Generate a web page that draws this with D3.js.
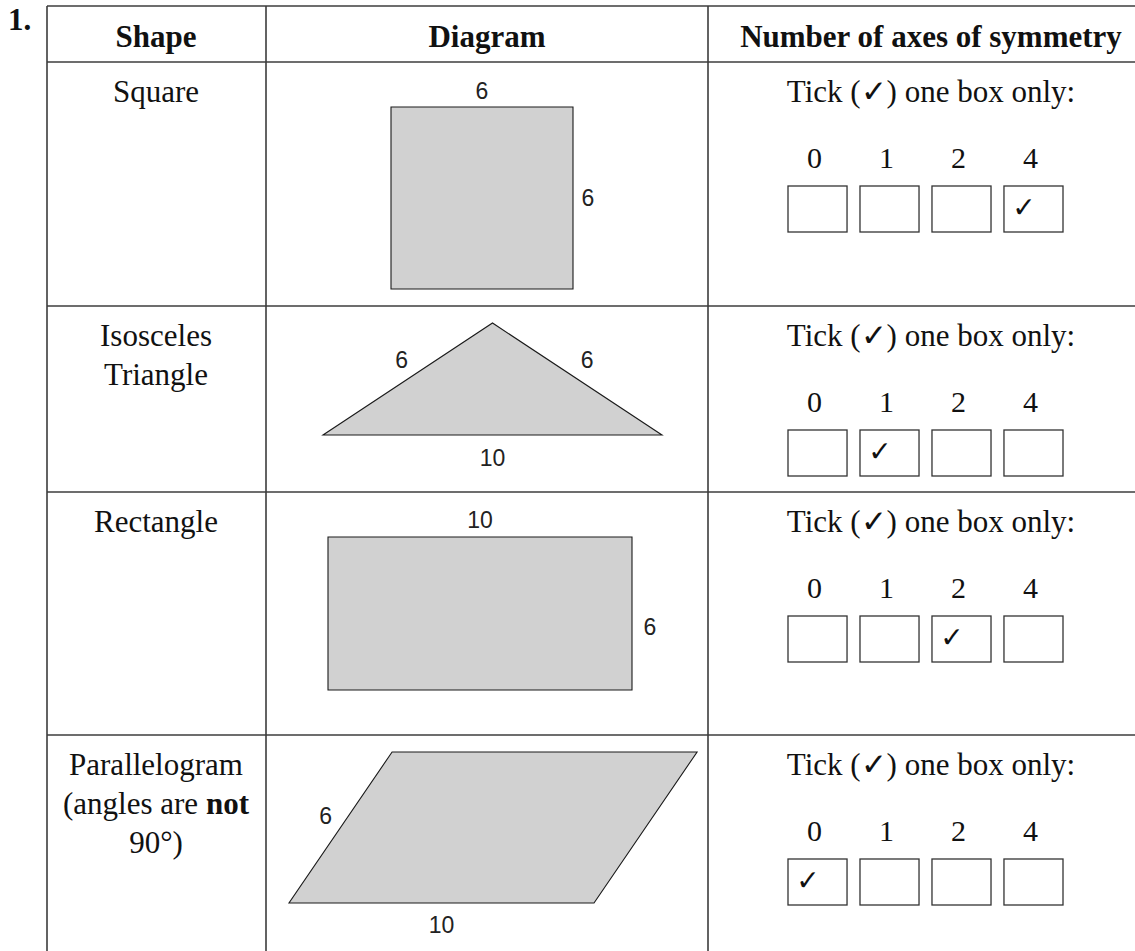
<!DOCTYPE html>
<html><head><meta charset="utf-8">
<script src="https://cdn.jsdelivr.net/npm/d3@7"></script>
<style>body{margin:0;background:#fff}svg{display:block}</style>
</head><body><svg id="c" width="1135" height="951"></svg>
<script>
// ---- data ----
const questionNumber = "1.";
const headers = ["Shape", "Diagram", "Number of axes of symmetry"];
const shapeNames = [
  [[{t: "Square"}]],
  [[{t: "Isosceles"}], [{t: "Triangle"}]],
  [[{t: "Rectangle"}]],
  [[{t: "Parallelogram"}], [{t: "(angles are "}, {t: "not", b: true}], [{t: "90°)"}]]
];
const tickPrompt = "Tick (\u2713) one box only:";
const axisOptions = [0, 1, 2, 4];
const tickedAnswers = [4, 1, 2, 0];
const squareVertices = [[0, 0], [6, 0], [6, 6], [0, 6]];
const triangleVertices = [[0, 0], [10, 0], [5, 3.32]];
const rectangleVertices = [[0, 0], [10, 0], [10, 6], [0, 6]];
const parallelogramVertices = [[0, 0], [10, 0], [13.38, 4.96], [3.38, 4.96]];
const squareLabels = [{t: "6", at: [3, 0], dx: 0, dy: -16}, {t: "6", at: [6, 3], dx: 15, dy: 0}];
const triangleLabels = [{t: "6", at: [2.5, 1.66], dx: -6, dy: -19}, {t: "6", at: [7.5, 1.66], dx: 10, dy: -19}, {t: "10", at: [5, 0], dx: 0, dy: 23}];
const rectangleLabels = [{t: "10", at: [5, 0], dx: 0, dy: -17}, {t: "6", at: [10, 3], dx: 18, dy: 13}];
const parallelogramLabels = [{t: "6", at: [1.69, 2.48], dx: -15, dy: -12}, {t: "10", at: [5, 0], dx: 0, dy: 22}];

// ---- layout ----
const svg = d3.select("#c");
const rowEdges = [6, 62, 306, 492, 735, 965];
const colEdges = [47, 266, 708, 1160];
const serif = "'Liberation Serif','Times New Roman',serif";
const sans = "'Liberation Sans',Arial,sans-serif";
const lineColor = "#3c3c3c";

svg.append("text").attr("x", 8).attr("y", 30).attr("font-family", serif)
  .attr("font-weight", "bold").attr("font-size", 31).attr("fill", "#111").text(questionNumber);

const g = svg.append("g").attr("stroke", lineColor).attr("stroke-width", 1.6);
rowEdges.forEach(y => g.append("line").attr("x1", colEdges[0]).attr("x2", colEdges[3]).attr("y1", y).attr("y2", y));
colEdges.forEach(x => g.append("line").attr("x1", x).attr("x2", x).attr("y1", rowEdges[0]).attr("y2", rowEdges[5]));

const headerCenters = [156, 487, 931];
headers.forEach((h, i) => {
  svg.append("text").attr("x", headerCenters[i]).attr("y", 47).attr("text-anchor", "middle")
    .attr("font-family", serif).attr("font-weight", "bold").attr("font-size", 31).attr("fill", "#111").text(h);
});

shapeNames.forEach((lines, r) => {
  const top = rowEdges[r + 1];
  lines.forEach((segs, li) => {
    const t = svg.append("text").attr("x", 156).attr("y", top + 40 + li * 39).attr("text-anchor", "middle")
      .attr("font-family", serif).attr("font-size", 31).attr("fill", "#111");
    segs.forEach(s => t.append("tspan").attr("font-weight", s.b ? "bold" : null).text(s.t));
  });
});

const diagrams = [
  {v: squareVertices, labels: squareLabels, x: d3.scaleLinear().domain([0, 6]).range([391, 573]), y: d3.scaleLinear().domain([0, 6]).range([107, 289])},
  {v: triangleVertices, labels: triangleLabels, x: d3.scaleLinear().domain([0, 10]).range([323, 662]), y: d3.scaleLinear().domain([0, 3.32]).range([435, 323])},
  {v: rectangleVertices, labels: rectangleLabels, x: d3.scaleLinear().domain([0, 10]).range([328, 632]), y: d3.scaleLinear().domain([0, 6]).range([537, 690])},
  {v: parallelogramVertices, labels: parallelogramLabels, x: d3.scaleLinear().domain([0, 10]).range([289, 594]), y: d3.scaleLinear().domain([0, 4.96]).range([903, 752])}
];
diagrams.forEach(d => {
  const line = d3.line().x(p => d.x(p[0])).y(p => d.y(p[1]));
  svg.append("path").attr("d", line(d.v) + "Z").attr("fill", "#d1d1d1").attr("stroke", "#1a1a1a").attr("stroke-width", 1.1);
  d.labels.forEach(l => {
    svg.append("text").attr("x", d.x(l.at[0]) + l.dx).attr("y", d.y(l.at[1]) + l.dy)
      .attr("text-anchor", "middle").attr("dominant-baseline", "central")
      .attr("font-family", sans).attr("font-size", 23).attr("fill", "#222").text(l.t);
  });
});

const bx = d3.scaleBand().domain(axisOptions).range([788, 1063]).paddingInner(0.18).paddingOuter(0);
tickedAnswers.forEach((ans, r) => {
  const top = rowEdges[r + 1];
  svg.append("text").attr("x", 931).attr("y", top + 40).attr("text-anchor", "middle")
    .attr("font-family", serif).attr("font-size", 31).attr("fill", "#111").text(tickPrompt);
  axisOptions.forEach(o => {
    svg.append("text").attr("x", bx(o) + bx.bandwidth() / 2 - 3).attr("y", top + 106).attr("text-anchor", "middle")
      .attr("font-family", serif).attr("font-size", 30).attr("fill", "#111").text(o);
    svg.append("rect").attr("x", bx(o)).attr("y", top + 124).attr("width", bx.bandwidth()).attr("height", 46)
      .attr("fill", "none").attr("stroke", "#333").attr("stroke-width", 1.3);
    if (o === ans) {
      svg.append("text").attr("x", bx(o) + 20).attr("y", top + 145).attr("text-anchor", "middle")
        .attr("dominant-baseline", "central").attr("font-family", "'DejaVu Sans',sans-serif")
        .attr("font-weight", "bold").attr("font-size", 28).attr("fill", "#111").text("\u2713");
    }
  });
});
</script></body></html>
